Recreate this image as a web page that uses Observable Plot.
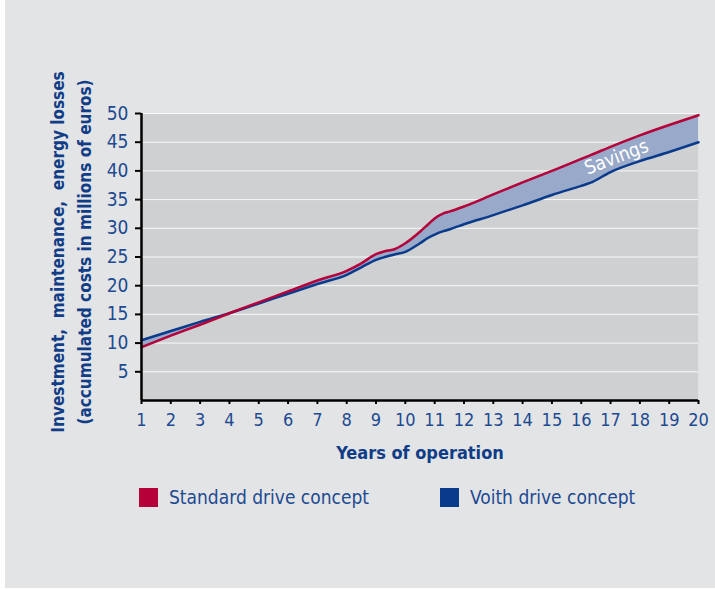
<!DOCTYPE html>
<html>
<head>
<meta charset="utf-8">
<script src="https://cdn.jsdelivr.net/npm/d3@7"></script>
<script src="https://cdn.jsdelivr.net/npm/@observablehq/plot@0.6"></script>
<style>
  html, body { margin: 0; padding: 0; background: #ffffff; }
  body { font-family: 'DejaVu Sans', sans-serif; font-stretch: condensed; }
  #panel { position: relative; margin-left: 5px; width: 710px; height: 588px; background: #e3e4e6; overflow: hidden; }
  #legend { position: relative; height: 60px; margin-top: 18px; }
  .sw { position: absolute; top: 0; width: 19px; height: 19px; }
  .lt { position: absolute; top: -5px; font-size: 19px; line-height: 28px; color: #1d4a91; white-space: nowrap; font-stretch: condensed; }
  svg text { font-stretch: condensed; }
</style>
</head>
<body>
<div id="panel">
  <div id="chart"></div>
  <div id="legend"></div>
</div>
<script>
// ---- data ----
const years    = [1, 2, 3, 4, 5, 6, 7, 8, 8.5, 9, 9.3, 9.6, 10, 10.5, 10.8, 11, 11.3, 11.5, 12, 13, 14, 15, 16, 16.3, 17, 18, 19, 20];
const standard = [9.3, 11.3, 13.2, 15.2, 17.1, 19.0, 20.9, 22.6, 23.9, 25.5, 26.0, 26.3, 27.4, 29.4, 30.8, 31.7, 32.6, 32.9, 33.8, 35.9, 38.0, 40.0, 42.1, 42.7, 44.2, 46.2, 48.0, 49.7];
const voith    = [10.5, 12.1, 13.7, 15.2, 16.9, 18.6, 20.3, 21.9, 23.2, 24.5, 25.0, 25.4, 25.9, 27.4, 28.4, 28.9, 29.5, 29.8, 30.7, 32.3, 34.0, 35.8, 37.4, 37.9, 39.8, 41.7, 43.3, 45.0];
const xTicks   = [1, 2, 3, 4, 5, 6, 7, 8, 9, 10, 11, 12, 13, 14, 15, 16, 17, 18, 19, 20];
const yTicks   = [5, 10, 15, 20, 25, 30, 35, 40, 45, 50];
const seriesNames = ["Standard drive concept", "Voith drive concept"];
const seriesColors = ["#b5003a", "#0a3a8c"];
const annotation = [{year: 17.2, value: 42.4, text: "Savings"}];
const xTitle = "Years of operation";
const yTitle = "Investment,  maintenance,  energy losses\n(accumulated costs in millions of euros)";

const data = years.map((year, i) => ({year, standard: standard[i], voith: voith[i]}));

const textBlue = "#1d4a91";
const titleBlue = "#103d86";

const chart = Plot.plot({
  width: 710,
  height: 470,
  marginLeft: 136,
  marginRight: 17,
  marginTop: 113,
  marginBottom: 70,
  x: {domain: [1, 20]},
  y: {domain: [0, 50]},
  style: {
    fontFamily: "'DejaVu Sans', sans-serif",
    fontStretch: "condensed",
    background: "transparent",
    overflow: "visible"
  },
  marks: [
    Plot.frame({fill: "#cfd0d2", stroke: "#e0e1e3"}),
    Plot.gridY(yTicks, {stroke: "white", strokeOpacity: 0.85, strokeWidth: 1}),
    Plot.areaY(data, {x: "year", y1: "voith", y2: "standard", fill: "#98a9c9", curve: "monotone-x"}),
    Plot.lineY(data, {x: "year", y: "voith", stroke: seriesColors[1], strokeWidth: 2.5, curve: "monotone-x"}),
    Plot.lineY(data, {x: "year", y: "standard", stroke: seriesColors[0], strokeWidth: 2.5, curve: "monotone-x"}),
    Plot.text(annotation, {x: "year", y: "value", text: "text", rotate: -21, fill: "white", fontSize: 19}),
    Plot.ruleX([1], {stroke: "black", strokeWidth: 2.5}),
    Plot.ruleY([0], {stroke: "black", strokeWidth: 2.5}),
    Plot.axisY(yTicks, {tickSize: 6, tickFormat: () => "", color: "black", strokeWidth: 2, label: null}),
    Plot.axisY(yTicks, {tickSize: 0, tickPadding: 13, color: textBlue, fontSize: 19, label: null}),
    Plot.axisX(xTicks, {tickSize: 4, tickFormat: () => "", color: "black", strokeWidth: 2, label: null}),
    Plot.axisX(xTicks, {tickSize: 0, tickPadding: 13, color: textBlue, fontSize: 18, label: null}),
    Plot.text([xTitle], {frameAnchor: "bottom", text: d => d, dy: 53, lineAnchor: "middle", fontWeight: "bold", fontSize: 18, fill: titleBlue}),
    Plot.text([yTitle], {frameAnchor: "left", text: d => d, rotate: -90, dx: -73, dy: -5, lineAnchor: "middle", textAnchor: "middle", fontWeight: "bold", fontSize: 17, lineHeight: 1.6, fill: titleBlue})
  ]
});
document.getElementById("chart").appendChild(chart);

// legend below the chart
const legend = document.getElementById("legend");
const legendX = [134, 435];
seriesNames.forEach((name, i) => {
  const sw = document.createElement("div");
  sw.className = "sw";
  sw.style.left = legendX[i] + "px";
  sw.style.background = seriesColors[i];
  legend.appendChild(sw);
  const t = document.createElement("div");
  t.className = "lt";
  t.style.left = (legendX[i] + 30) + "px";
  t.textContent = name;
  legend.appendChild(t);
});
</script>
</body>
</html>
